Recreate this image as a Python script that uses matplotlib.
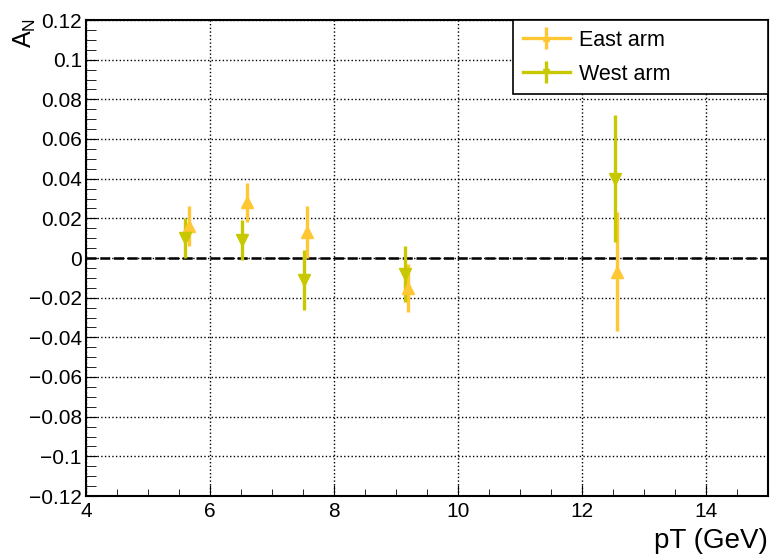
import numpy as np
import matplotlib
matplotlib.use("Agg")
import matplotlib.pyplot as plt
from matplotlib.ticker import MultipleLocator

plt.rcParams['font.family'] = ['Liberation Sans', 'DejaVu Sans']

# data
east_pt = [5.66, 6.59, 7.56, 9.20, 12.57]
east_an = [0.016, 0.028, 0.013, -0.015, -0.007]
east_err = [0.010, 0.010, 0.013, 0.012, 0.030]

west_pt = [5.60, 6.52, 7.51, 9.14, 12.53]
west_an = [0.010, 0.009, -0.011, -0.008, 0.040]
west_err = [0.010, 0.010, 0.015, 0.014, 0.032]

y_ticks = np.round(np.arange(-0.12, 0.1201, 0.02), 2)

east_col = '#FFC733'
west_col = '#C8C800'

fig = plt.figure(figsize=(7.73, 5.56), dpi=100)
ax = fig.add_axes([86/773, 60/556, 682/773, 476/556])

ax.errorbar(east_pt, east_an, yerr=east_err, fmt='^', color=east_col,
            ms=9, elinewidth=2.4, capsize=0, zorder=4)
ax.errorbar(west_pt, west_an, yerr=west_err, fmt='v', color=west_col,
            ms=9, elinewidth=2.4, capsize=0, zorder=4)

ax.axhline(0, color='black', ls=(0, (4, 1.5)), lw=1.8, zorder=3)

ax.set_xlim(4, 15)
ax.set_ylim(-0.12, 0.12)
ax.xaxis.set_major_locator(MultipleLocator(2))
ax.xaxis.set_minor_locator(MultipleLocator(0.5))
ax.yaxis.set_minor_locator(MultipleLocator(0.005))
ax.set_yticks(y_ticks)
ax.set_yticklabels([('%g' % v).replace('-', '\u2212') if v != 0 else '0' for v in y_ticks])
ax.grid(True, which='major', color='black', ls=':', lw=1.0)
ax.tick_params(which='both', direction='in', labelsize=15, top=False, right=False)
ax.tick_params(axis='x', which='major', length=8, pad=4)
ax.tick_params(axis='x', which='minor', length=5)
ax.tick_params(axis='y', which='major', length=8, pad=3)
ax.tick_params(axis='y', which='minor', length=7)
for s in ax.spines.values():
    s.set_linewidth(1.5)

# legend with horizontal line + error bar like ROOT
h1 = ax.errorbar([np.nan], [np.nan], yerr=[np.nan], fmt='-^', color=east_col,
                 ms=5, lw=2.4, elinewidth=2.4, capsize=0)
h2 = ax.errorbar([np.nan], [np.nan], yerr=[np.nan], fmt='-v', color=west_col,
                 ms=5, lw=2.4, elinewidth=2.4, capsize=0)
leg = ax.legend([h1, h2], ['East arm', 'West arm'], loc='upper left',
                bbox_to_anchor=(427/682, 1.0, 255/682, 0.0), mode='expand',
                fontsize=15.5, frameon=True, fancybox=False, borderaxespad=0,
                handlelength=2.2, handletextpad=0.4, labelspacing=0.6,
                borderpad=0.45)
leg.get_frame().set_edgecolor('black')
leg.get_frame().set_linewidth(1.2)
leg.get_frame().set_alpha(1)

fig.text(768/773, 15/556, 'pT (GeV)', ha='right', va='center', fontsize=20)
fig.text(25/773, 523/556, 'A$_\\mathregular{N}$', ha='center', va='center',
         rotation=90, fontsize=18)

fig.savefig('out.png', dpi=100)
